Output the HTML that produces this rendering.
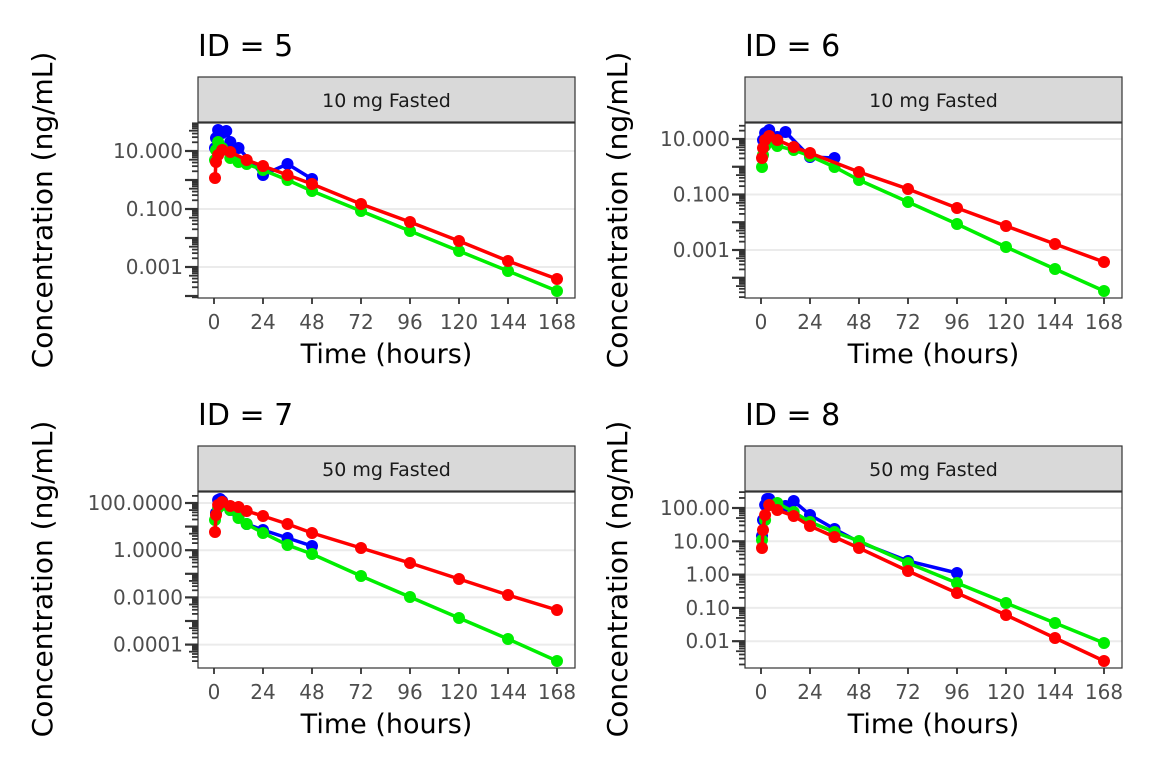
<!DOCTYPE html>
<html><head><meta charset="utf-8">
<style>html,body{margin:0;padding:0;background:#fff;}svg{display:block}</style></head>
<body>
<svg id="s" width="1152" height="768" xmlns="http://www.w3.org/2000/svg" font-family="'DejaVu Sans','Liberation Sans',sans-serif"></svg>
<script>
const s=document.getElementById('s');let h='';
const panels=[
 {L:198,R:575,T:123,B:298,st:77,yl:52,title:'ID = 5',strip:'10 mg Fasted',y0:151,l0:1,dec:29,labs:[[1,'10.000'],[-1,'0.100'],[-3,'0.001']],
  red:[[0.5,178],[1,162],[2,155],[4,150],[8,152],[16,160],[24,166],[36,175],[48,184],[72,204],[96,222],[120,241],[144,261],[168,279]],
  green:[[0.5,160],[1,150],[2,142],[4,148],[8,158],[12,162],[16,164],[24,170],[36,180],[48,191],[72,211],[96,231],[120,251],[144,271],[168,291]],
  blue:[[0.5,148],[1,138],[2,130],[4,133],[6,131],[8,142],[12,148],[24,175],[36,164],[48,179]]},
 {L:745,R:1122,T:123,B:298,st:77,yl:627,title:'ID = 6',strip:'10 mg Fasted',y0:139,l0:1,dec:27.75,labs:[[1,'10.000'],[-1,'0.100'],[-3,'0.001']],
  red:[[0.5,158],[1,148],[2,140],[4,136],[8,140],[16,147],[24,153],[48,172],[72,189],[96,208],[120,226],[144,244],[168,262]],
  green:[[0.5,167],[1,155],[2,146],[4,142],[8,146],[16,150],[24,156],[36,167],[48,180],[72,202],[96,224],[120,247],[144,269],[168,291]],
  blue:[[1,140],[2,133],[4,130],[6,137],[8,137],[12,132],[24,157],[36,158]]},
 {L:198,R:575,T:492,B:668,st:446,yl:52,title:'ID = 7',strip:'50 mg Fasted',y0:503,l0:2,dec:23.6,labs:[[2,'100.0000'],[0,'1.0000'],[-2,'0.0100'],[-4,'0.0001']],
  red:[[0.5,532],[1,515],[2,505],[4,502],[8,506],[12,507],[16,511],[24,516],[36,524],[48,533],[72,548],[96,563],[120,579],[144,595],[168,610]],
  green:[[0.5,520],[2,508],[4,505],[8,510],[12,518],[16,524],[24,533],[36,545],[48,554],[72,576],[96,597],[120,618],[144,639],[168,661]],
  blue:[[1,513],[2,500],[3,499],[4,501],[8,510],[12,516],[16,524],[24,530],[36,538],[48,546]]},
 {L:745,R:1122,T:492,B:668,st:446,yl:627,title:'ID = 8',strip:'50 mg Fasted',y0:508,l0:2,dec:33.3,labs:[[2,'100.00'],[1,'10.00'],[0,'1.00'],[-1,'0.10'],[-2,'0.01']],
  red:[[0.5,548],[1,530],[2,515],[4,505],[8,510],[16,516],[24,526],[36,537],[48,548],[72,571],[96,593],[120,615],[144,638],[168,661]],
  green:[[0.5,540],[2,520],[4,505],[8,503],[16,512],[24,522],[36,532],[48,541],[72,563],[96,583],[120,603],[144,623],[168,643]],
  blue:[[0.5,536],[1,520],[2,505],[3,499],[4,499],[6,505],[8,508],[12,506],[16,501],[24,515],[36,529],[48,542],[72,561],[96,573]]}
];
panels.forEach(p=>{
 const x0=p.L+16, sx=343/168, X=t=>x0+t*sx;
 h+=`<text x="${p.L}" y="${p.st-21}" font-size="30" fill="#000">${p.title}</text>`;
 h+=`<rect x="${p.L}" y="${p.st}" width="${p.R-p.L}" height="${p.T-p.st-1}" fill="#d9d9d9" stroke="#333" stroke-width="1.2"/>`;
 h+=`<text x="${(p.L+p.R)/2}" y="${p.st+30}" font-size="19" text-anchor="middle" fill="#1a1a1a">${p.strip}</text>`;
 h+=`<rect x="${p.L}" y="${p.T}" width="${p.R-p.L}" height="${p.B-p.T}" fill="#fff"/>`;
 p.labs.forEach(([l,t])=>{const y=p.y0+(p.l0-l)*p.dec;
  h+=`<line x1="${p.L}" x2="${p.R}" y1="${y}" y2="${y}" stroke="#ebebeb" stroke-width="2"/>`;
  h+=`<text x="${p.L-15}" y="${y+7}" font-size="20" text-anchor="end" fill="#4d4d4d">${t}</text>`;});
 for(let k=-6;k<4;k++)for(let m=1;m<10;m++){const l=k+Math.log10(m);const y=p.y0+(p.l0-l)*p.dec;
  if(y<p.T||y>p.B)continue;const len=m==1?13:(m==5?9:6);
  h+=`<line x1="${p.L-len}" x2="${p.L}" y1="${y}" y2="${y}" stroke="#333" stroke-width="${m==1?2.2:1.8}"/>`;}
 [0,24,48,72,96,120,144,168].forEach(t=>{const x=X(t);
  h+=`<line x1="${x}" x2="${x}" y1="${p.B}" y2="${p.B+6}" stroke="#333" stroke-width="1.8"/>`;
  h+=`<text x="${x}" y="${p.B+31}" font-size="20" text-anchor="middle" fill="#4d4d4d">${t}</text>`;});
 [['blue','#0000ff'],['green','#00ee00'],['red','#ff0000']].forEach(([k,c])=>{
  const pts=p[k].map(([t,y])=>`${X(t).toFixed(1)},${y}`).join(' ');
  h+=`<polyline points="${pts}" fill="none" stroke="${c}" stroke-width="3.5"/>`;
  p[k].forEach(([t,y])=>h+=`<circle cx="${X(t).toFixed(1)}" cy="${y}" r="6" fill="${c}"/>`);});
 h+=`<rect x="${p.L}" y="${p.T}" width="${p.R-p.L}" height="${p.B-p.T}" fill="none" stroke="#333" stroke-width="1.2"/>`;
 h+=`<text x="${(p.L+p.R)/2}" y="${p.B+65}" font-size="27" text-anchor="middle" fill="#000">Time (hours)</text>`;
 const cy=p.T+87;
 h+=`<text transform="translate(${p.yl},${cy}) rotate(-90)" font-size="28" text-anchor="middle" fill="#000">Concentration (ng/mL)</text>`;
});
s.innerHTML=h;
</script>
</body></html>
